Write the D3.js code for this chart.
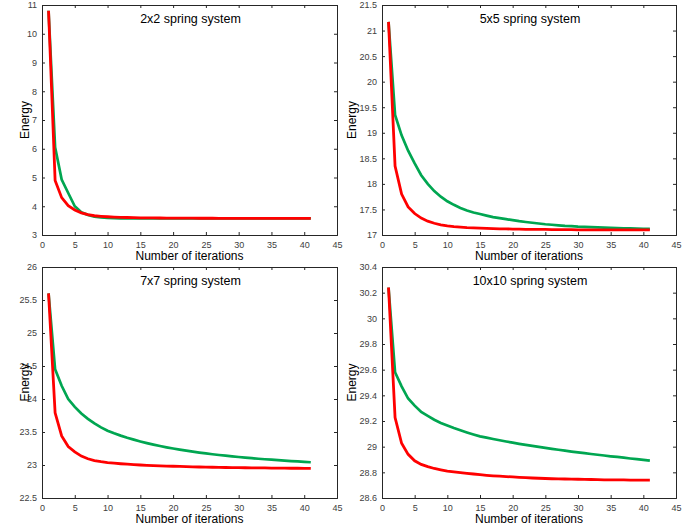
<!DOCTYPE html>
<html>
<head>
<meta charset="utf-8">
<script src="https://cdn.jsdelivr.net/npm/d3@7"></script>
<style>
  body { margin: 0; background: #fff; }
  svg { font-family: "Liberation Sans", Arial, sans-serif; }
</style>
</head>
<body>
<svg width="699" height="527"></svg>
<script>
// iteration index, 1..41
const iterations = d3.range(1, 42);

const titles = ["2x2 spring system", "5x5 spring system", "7x7 spring system", "10x10 spring system"];

const yDomains = [[3, 11], [17, 21.5], [22.5, 26], [28.6, 30.4]];
const yTickStep = [1, 0.5, 0.5, 0.2];
const xTicks = [0, 5, 10, 15, 20, 25, 30, 35, 40, 45];

const green2 = [10.8, 6.05, 4.93, 4.46, 4.0, 3.79, 3.7, 3.64, 3.61, 3.595, 3.585, 3.58, 3.58, 3.58, 3.58,
  3.58, 3.58, 3.58, 3.58, 3.58, 3.58, 3.58, 3.58, 3.58, 3.58, 3.58, 3.58, 3.58, 3.58, 3.58,
  3.58, 3.58, 3.58, 3.58, 3.58, 3.58, 3.58, 3.58, 3.58, 3.58, 3.58];
const red2 = [10.8, 4.9, 4.3, 4.02, 3.87, 3.77, 3.71, 3.67, 3.65, 3.635, 3.625, 3.615, 3.608, 3.603, 3.599,
  3.596, 3.593, 3.591, 3.589, 3.587, 3.586, 3.585, 3.584, 3.583, 3.582, 3.582, 3.581, 3.581, 3.58, 3.58,
  3.58, 3.58, 3.58, 3.58, 3.58, 3.58, 3.58, 3.58, 3.58, 3.58, 3.58];

const green5 = [21.17, 19.35, 18.95, 18.65, 18.4, 18.17, 18.0, 17.86, 17.75, 17.66, 17.59, 17.53, 17.48, 17.44,
  17.41, 17.38, 17.35, 17.33, 17.31, 17.29, 17.27, 17.255, 17.24, 17.225, 17.21, 17.2, 17.19, 17.18,
  17.175, 17.165, 17.16, 17.155, 17.15, 17.145, 17.14, 17.135, 17.13, 17.13, 17.125, 17.12, 17.12];
const red5 = [21.17, 18.35, 17.8, 17.55, 17.42, 17.33, 17.27, 17.23, 17.2, 17.18, 17.165, 17.155, 17.145,
  17.14, 17.135, 17.13, 17.125, 17.12, 17.12, 17.115, 17.115, 17.11, 17.11, 17.11, 17.11, 17.105, 17.105,
  17.105, 17.105, 17.1, 17.1, 17.1, 17.1, 17.1, 17.1, 17.1, 17.1, 17.1, 17.1, 17.1, 17.1];

const green7 = [25.6, 24.45, 24.2, 24.0, 23.88, 23.78, 23.7, 23.63, 23.57, 23.52, 23.48, 23.445, 23.413, 23.384,
  23.357, 23.332, 23.309, 23.288, 23.268, 23.25, 23.233, 23.217, 23.202, 23.188, 23.175, 23.163, 23.152,
  23.141, 23.131, 23.121, 23.112, 23.103, 23.095, 23.087, 23.08, 23.073, 23.066, 23.06, 23.054, 23.048, 23.042];
const red7 = [25.6, 23.79, 23.44, 23.28, 23.2, 23.135, 23.095, 23.068, 23.05, 23.037, 23.027, 23.019, 23.012,
  23.006, 23.0, 22.995, 22.99, 22.987, 22.984, 22.981, 22.978, 22.975, 22.972, 22.97, 22.968, 22.966, 22.964,
  22.962, 22.96, 22.959, 22.958, 22.957, 22.956, 22.955, 22.954, 22.953, 22.952, 22.951, 22.951, 22.95, 22.95];

const green10 = [30.24, 29.58, 29.47, 29.375, 29.32, 29.27, 29.24, 29.21, 29.185, 29.165, 29.145, 29.128, 29.111,
  29.095, 29.08, 29.07, 29.06, 29.05, 29.04, 29.031, 29.022, 29.014, 29.006, 28.998, 28.99, 28.983,
  28.976, 28.969, 28.962, 28.955, 28.949, 28.943, 28.937, 28.931, 28.925, 28.92, 28.914, 28.908, 28.903,
  28.897, 28.891];
const red10 = [30.24, 29.226, 29.026, 28.94, 28.89, 28.862, 28.845, 28.83, 28.82, 28.81, 28.803, 28.797, 28.792,
  28.787, 28.782, 28.777, 28.773, 28.77, 28.767, 28.764, 28.761, 28.758, 28.756, 28.754, 28.752, 28.75,
  28.749, 28.748, 28.747, 28.746, 28.745, 28.744, 28.743, 28.742, 28.742, 28.741, 28.741, 28.74, 28.74,
  28.74, 28.74];

const greenSeries = [green2, green5, green7, green10];
const redSeries = [red2, red5, red7, red10];

const boxes = [
  {left: 42, right: 337, top: 5, bottom: 235},
  {left: 382, right: 676, top: 5, bottom: 235},
  {left: 42, right: 337, top: 267, bottom: 498},
  {left: 382, right: 676, top: 267, bottom: 498}
];

const GREEN = "#00a651", RED = "#ff0000";
const svg = d3.select("svg");

boxes.forEach(function(b, i) {
  const g = svg.append("g");
  const x = d3.scaleLinear().domain([0, 45]).range([b.left, b.right]);
  const y = d3.scaleLinear().domain(yDomains[i]).range([b.bottom, b.top]);
  const yTicks = d3.range(yDomains[i][0], yDomains[i][1] + 1e-9, yTickStep[i]).map(v => +v.toFixed(2));

  // inward ticks on all four sides
  const tk = 3;
  g.append("g").attr("transform", `translate(0,${b.bottom})`)
    .call(d3.axisBottom(x).tickValues(xTicks).tickSize(-tk).tickPadding(7).tickFormat(d3.format("d")));
  g.append("g").attr("transform", `translate(0,${b.top})`)
    .call(d3.axisTop(x).tickValues(xTicks).tickSize(-tk).tickFormat(""));
  g.append("g").attr("transform", `translate(${b.left},0)`)
    .call(d3.axisLeft(y).tickValues(yTicks).tickSize(-tk).tickPadding(5).tickFormat(d => d3.format("")(d)));
  g.append("g").attr("transform", `translate(${b.right},0)`)
    .call(d3.axisRight(y).tickValues(yTicks).tickSize(-tk).tickFormat(""));

  g.selectAll(".domain").attr("stroke", "#262626").attr("stroke-width", 1);
  g.selectAll(".tick line").attr("stroke", "#262626");
  g.selectAll(".tick text").attr("fill", "#404040").style("font-size", "9px")
    .style("font-family", "'Liberation Sans', Arial, sans-serif");

  const line = d3.line().x((d, j) => x(iterations[j])).y(d => y(d));
  g.append("path").datum(greenSeries[i]).attr("d", line)
    .attr("fill", "none").attr("stroke", GREEN).attr("stroke-width", 2.7);
  g.append("path").datum(redSeries[i]).attr("d", line)
    .attr("fill", "none").attr("stroke", RED).attr("stroke-width", 2.8);

  const cx = (b.left + b.right) / 2;
  g.append("text").attr("x", cx + 1).attr("y", b.top + 18)
    .attr("text-anchor", "middle").style("font-size", "12.5px").attr("fill", "#000")
    .text(titles[i]);
  g.append("text").attr("x", cx).attr("y", b.bottom + 25)
    .attr("text-anchor", "middle").style("font-size", "12px").attr("fill", "#000")
    .text("Number of iterations");
  const ly = (b.top + b.bottom) / 2;
  const lx = i % 2 === 0 ? b.left - 13 : b.left - 26;
  g.append("text").attr("transform", `translate(${lx},${ly}) rotate(-90)`)
    .attr("text-anchor", "middle").style("font-size", "12px").attr("fill", "#000")
    .text("Energy");
});
</script>
</body>
</html>
